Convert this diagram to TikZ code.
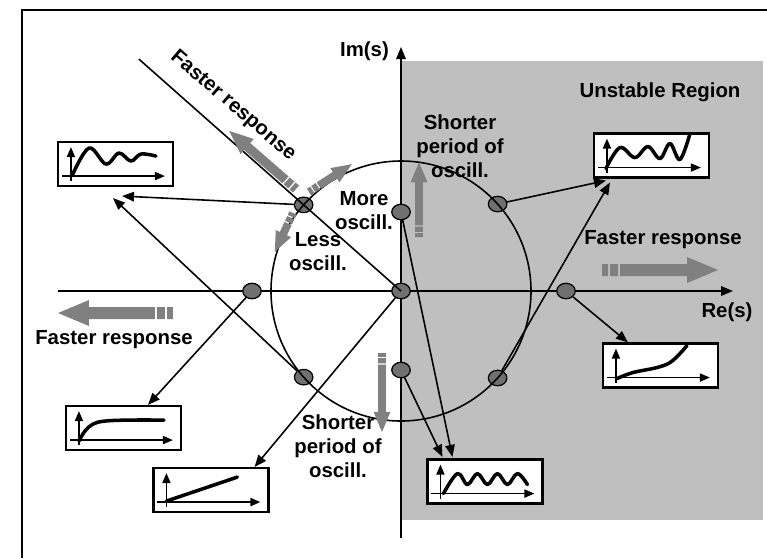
\documentclass[tikz,border=0pt]{standalone}
\usepackage{fontspec}
\setmainfont{Liberation Sans}
\usepackage{tikz}
\usetikzlibrary{arrows.meta, shapes.geometric}

\definecolor{regiongray}{gray}{0.75}
\definecolor{arrowgray}{gray}{0.5}
\definecolor{polegray}{gray}{0.44}

\tikzset{
  pics/fastarrow/.style={code={
    \fill[arrowgray] (0,-0.12) rectangle (0.12,0.12)
      (0.16,-0.12) rectangle (0.32,0.12)
      (0.36,-0.12) -- (#1-0.62,-0.12) -- (#1-0.62,-0.26) -- (#1,0)
      -- (#1-0.62,0.26) -- (#1-0.62,0.12) -- (0.36,0.12) -- cycle;
  }}
}

\begin{document}
\begin{tikzpicture}[
  resp/.style={rectangle, draw, line width=1.2pt, fill=white, minimum width=2.3cm, minimum height=0.88cm, inner sep=0pt},
  pole/.style={ellipse, draw, line width=0.7pt, fill=polegray, minimum width=0.37cm, minimum height=0.31cm, inner sep=0pt},
  arr/.style={-{Triangle[length=2.4mm, width=1.9mm]}, line width=0.9pt},
  ax/.style={-{Triangle[length=2mm, width=1.6mm]}, line width=1pt},
  curve/.style={line width=2pt, line cap=round, line join=round},
  lbl/.style={font=\fontsize{11.6}{13.7}\selectfont\bfseries, align=center}]
\useasboundingbox (-8.02,-5.34) rectangle (7.32,5.82);
\fill[white] (-8.02,-5.34) rectangle (7.32,5.82);
\fill[regiongray] (0,-4.58) rectangle (7.24,4.6);
\draw[line width=1.1pt] (-7.58,-5.34) |- (7.32,5.62);
\draw[ax, -{Triangle[length=2.4mm, width=1.9mm]}] (-6.86,0) -- (6.64,0);
\draw[ax, -{Triangle[length=2.4mm, width=1.9mm]}] (0,-4.94) -- (0,4.88);
\node[lbl, anchor=east] (imlbl) at (-0.12,4.8) {Im(s)};
\node[lbl] (relbl) at (6.52,-0.42) {Re(s)};
\node[lbl] (unst) at (5.18,3.98) {Unstable Region};

\node[pole] (orig) at (0,0) {};
\node[pole] (negr) at (-2.98,0) {};
\node[pole] (posr) at (3.3,0) {};
\node[pole] (upi) at (0,1.58) {};
\node[pole] (loi) at (0,-1.58) {};
\node[pole] (upl) at (138.5:2.6) {};
\node[pole] (lol) at (-138.5:2.6) {};
\node[pole] (upr) at (42:2.6) {};
\node[pole] (lor) at (-42:2.6) {};
\coordinate (diagend) at (138.5:7.0);
\draw[line width=0.9pt] (orig.center) circle (2.6);
\draw[line width=0.9pt] (orig.center) -- (diagend);

\node[resp] (damped) at (-5.71,2.54) {};
\node[resp] (settle) at (-5.55,-2.74) {};
\node[resp] (ramp) at (-3.8,-3.98) {};
\node[resp] (sustain) at (1.68,-3.81) {};
\node[resp] (growosc) at (5.01,2.71) {};
\node[resp] (grow) at (5.19,-1.49) {};
\foreach \b in {damped,settle,ramp,sustain,growosc,grow}{
  \draw[ax] ([shift={(0.1,0.22)}]\b.south west) -- ++(2.06,0);
  \draw[ax] ([shift={(0.28,0.12)}]\b.south west) -- ++(0,0.68);
}
\draw[curve, shift={(damped.south west)}] plot[smooth, tension=0.6] coordinates {(0.3,0.22) (0.64,0.78) (0.98,0.46) (1.24,0.68) (1.48,0.52) (1.68,0.66) (1.98,0.62)};
\draw[curve, shift={(settle.south west)}] plot[smooth, tension=0.6] coordinates {(0.28,0.2) (0.4,0.4) (0.56,0.54) (0.8,0.6) (1.3,0.62) (1.98,0.62)};
\draw[curve, shift={(ramp.south west)}] (0.28,0.24) -- (1.7,0.72);
\draw[curve, shift={(sustain.south west)}] plot[smooth, tension=0.6] coordinates {(0.34,0.22) (0.62,0.62) (0.82,0.4) (1.02,0.62) (1.22,0.4) (1.42,0.62) (1.62,0.4) (1.82,0.62) (2.02,0.4)};
\draw[curve, shift={(growosc.south west)}] plot[smooth, tension=0.6] coordinates {(0.26,0.2) (0.54,0.62) (0.84,0.42) (1.1,0.64) (1.34,0.4) (1.54,0.7) (1.74,0.38) (1.94,0.9)};
\draw[curve, shift={(grow.south west)}] plot[smooth, tension=0.6] coordinates {(0.3,0.2) (0.62,0.32) (1.1,0.42) (1.36,0.52) (1.56,0.7) (1.7,0.86)};

\draw[arr] (upl) -- ([xshift=1.3mm, yshift=-1.8mm]damped.south);
\draw[arr] (lol) -- ([xshift=-0.5mm, yshift=-2.2mm]damped.south);
\draw[arr] (negr) -- ([xshift=4.9mm]settle.north);
\draw[arr] (orig) -- ([xshift=-3mm]ramp.north east);
\draw[arr] (upi) -- ([xshift=5.2mm, yshift=0.3mm]sustain.north west);
\draw[arr] (loi) -- ([xshift=3.2mm, yshift=0.3mm]sustain.north west);
\draw[arr] (upr) -- ([xshift=2.6mm, yshift=-0.4mm]growosc.south west);
\draw[arr] (lor) -- ([xshift=3.4mm, yshift=-0.8mm]growosc.south west);
\draw[arr] (posr) -- ([xshift=5.2mm]grow.north west);

\pic at (4.02,0.42) {fastarrow=2.32};
\pic[rotate=180] at (-4.56,-0.44) {fastarrow=2.3};
\pic[rotate=139, scale=0.77] at (-2.1,2.04) {fastarrow=2.3};
\pic[rotate=33, scale=0.65] at (-1.84,1.98) {fastarrow=1.57};
\pic[rotate=245, scale=0.65] at (-2.16,1.56) {fastarrow=1.32};
\pic[rotate=90, scale=0.65] at (0.36,1.08) {fastarrow=2.3};
\pic[rotate=-90, scale=0.65] at (-0.38,-1.24) {fastarrow=2.43};

\node[lbl] (shortup) at (1.18,2.9) {Shorter\\period of\\oscill.};
\node[lbl] (more) at (-0.74,1.6) {More\\oscill.};
\node[lbl] (less) at (-1.66,0.78) {Less\\oscill.};
\node[lbl] (shortdn) at (-1.26,-3.1) {Shorter\\period of\\oscill.};
\node[lbl] (fastl) at (-5.74,-0.98) {Faster response};
\node[lbl] (fastr) at (5.24,1.02) {Faster response};
\node[lbl, rotate=-40.5] (fastd) at (-3.36,3.7) {Faster response};
\end{tikzpicture}
\end{document}
